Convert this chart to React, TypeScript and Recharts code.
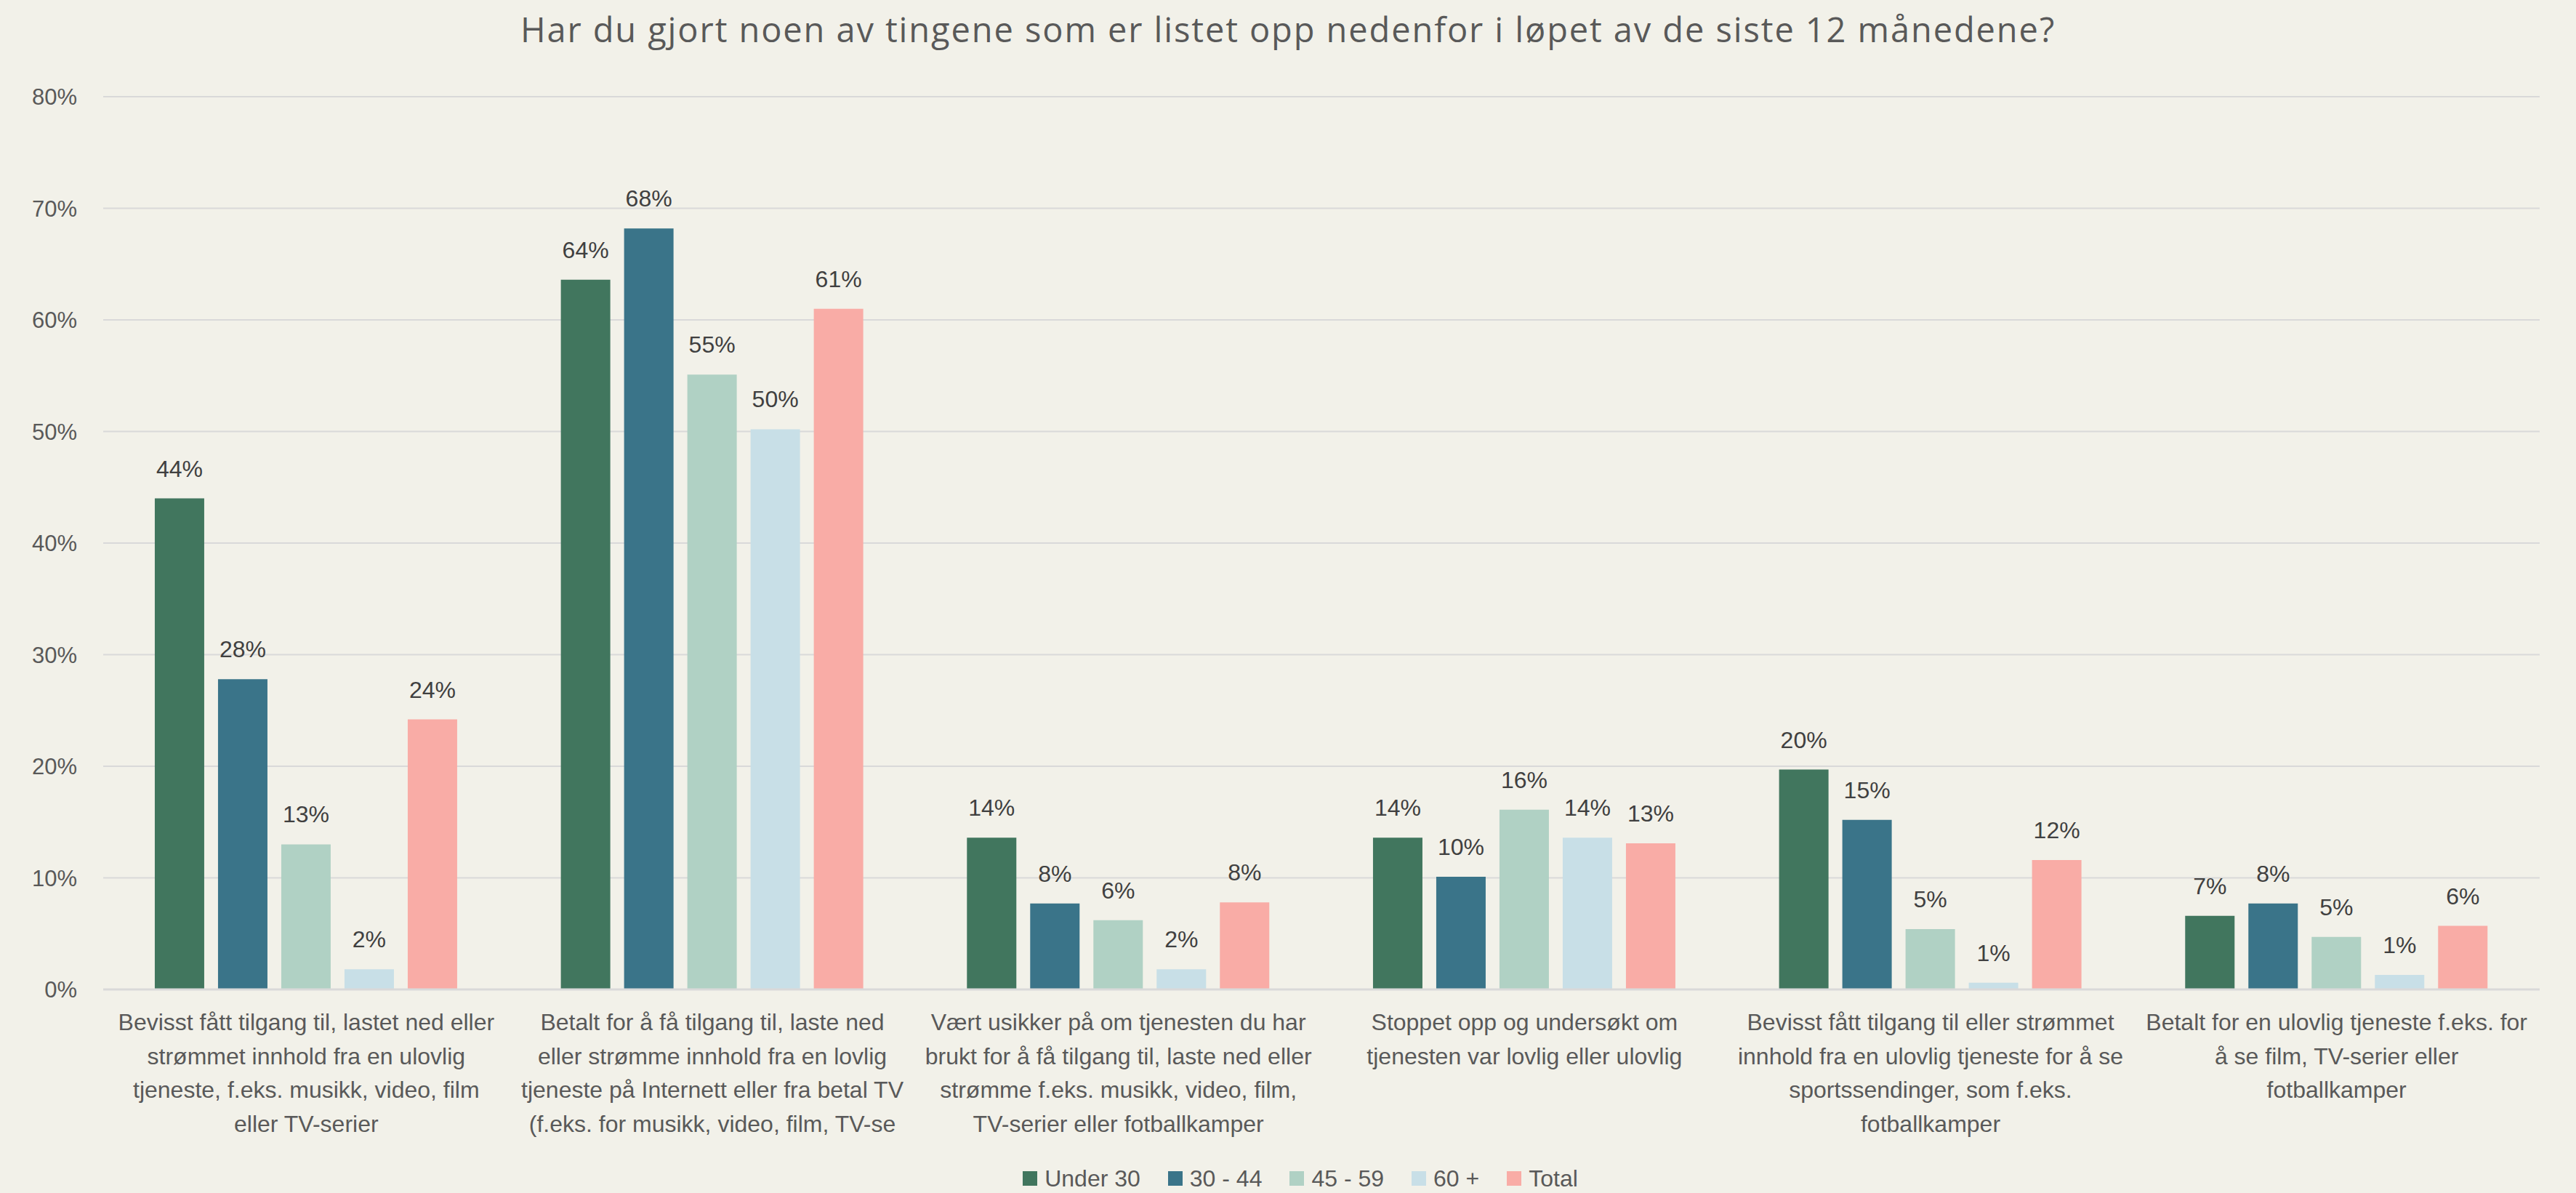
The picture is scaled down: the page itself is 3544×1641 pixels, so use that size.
import React from 'react'
import { BarChart, Bar, XAxis, YAxis, CartesianGrid, Legend, LabelList } from 'recharts'

const categories = [
  'Bevisst fått tilgang til, lastet ned eller strømmet innhold fra en ulovlig tjeneste, f.eks. musikk, video, film eller TV-serier',
  'Betalt for å få tilgang til, laste ned eller strømme innhold fra en lovlig tjeneste på Internett eller fra betal TV (f.eks. for musikk, video, film, TV-se',
  'Vært usikker på om tjenesten du har brukt for å få tilgang til, laste ned eller strømme f.eks. musikk, video, film, TV-serier eller fotballkamper',
  'Stoppet opp og undersøkt om tjenesten var lovlig eller ulovlig',
  'Bevisst fått tilgang til eller strømmet innhold fra en ulovlig tjeneste for å se sportssendinger, som f.eks. fotballkamper',
  'Betalt for en ulovlig tjeneste f.eks. for å se film, TV-serier eller fotballkamper',
]

// line breaks as they appear under the axis
const tickLines = [
  ['Bevisst fått tilgang til, lastet ned eller', 'strømmet innhold fra en ulovlig', 'tjeneste, f.eks. musikk, video, film', 'eller TV-serier'],
  ['Betalt for å få tilgang til, laste ned', 'eller strømme innhold fra en lovlig', 'tjeneste på Internett eller fra betal TV', '(f.eks. for musikk, video, film, TV-se'],
  ['Vært usikker på om tjenesten du har', 'brukt for å få tilgang til, laste ned eller', 'strømme f.eks. musikk, video, film,', 'TV-serier eller fotballkamper'],
  ['Stoppet opp og undersøkt om', 'tjenesten var lovlig eller ulovlig'],
  ['Bevisst fått tilgang til eller strømmet', 'innhold fra en ulovlig tjeneste for å se', 'sportssendinger, som f.eks.', 'fotballkamper'],
  ['Betalt for en ulovlig tjeneste f.eks. for', 'å se film, TV-serier eller', 'fotballkamper'],
]

const under30 = [44.0, 63.6, 13.6, 13.6, 19.7, 6.6]
const age30to44 = [27.8, 68.2, 7.7, 10.1, 15.2, 7.7]
const age45to59 = [13.0, 55.1, 6.2, 16.1, 5.4, 4.7]
const age60plus = [1.8, 50.2, 1.8, 13.6, 0.6, 1.3]
const total = [24.2, 61.0, 7.8, 13.1, 11.6, 5.7]

const yTicks = [0, 10, 20, 30, 40, 50, 60, 70, 80]

const series = [
  { key: 'u30', name: 'Under 30', color: '#41765E' },
  { key: 'a3044', name: '30 - 44', color: '#3A7489' },
  { key: 'a4559', name: '45 - 59', color: '#B0D1C4' },
  { key: 'a60', name: '60 +', color: '#C8DFE7' },
  { key: 'total', name: 'Total', color: '#F9ACA6' },
]

const data = categories.map((name, i) => ({
  name,
  u30: under30[i],
  a3044: age30to44[i],
  a4559: age45to59[i],
  a60: age60plus[i],
  total: total[i],
}))

const FONT = '"Liberation Sans", Arial, sans-serif'
const BG = '#F2F1E9'

const CategoryTick = ({ x, y, payload }: { x?: number; y?: number; payload?: { value: string } }) => {
  const idx = categories.indexOf(payload?.value ?? '')
  const lines = tickLines[idx] ?? []
  return (
    <text x={x} y={(y ?? 0) + 56} textAnchor="middle" fill="#595959" fontSize={32} fontFamily={FONT}>
      {lines.map((l, i) => (
        <tspan key={i} x={x} dy={i === 0 ? 0 : 46.7}>{l}</tspan>
      ))}
    </text>
  )
}

const CustomLegend = ({ payload }: { payload?: Array<{ color: string; value: string }> }) => {
  const order = series.map((s) => s.name)
  const items = [...(payload ?? [])].sort((a, b) => order.indexOf(a.value) - order.indexOf(b.value))
  return (
    <div style={{ height: 80, display: 'flex', justifyContent: 'center', alignItems: 'flex-end', paddingLeft: 122, boxSizing: 'border-box', paddingBottom: 2 }}>
      {items.map((entry, index) => (
        <div key={index} style={{ display: 'flex', alignItems: 'center', marginRight: 38, height: 36 }}>
          <div style={{ width: 20, height: 20, backgroundColor: entry.color, marginRight: 10 }} />
          <span style={{ fontSize: 32, color: '#595959', fontFamily: FONT }}>{entry.value}</span>
        </div>
      ))}
    </div>
  )
}

export default function App() {
  return (
    <div style={{ position: 'relative', width: 3544, height: 1641, background: BG, overflow: 'hidden' }}>
      <style>{'body{margin:0}'}</style>
      <div style={{ position: 'absolute', top: 8, left: 0, width: 3544, textAlign: 'center', fontSize: 47, letterSpacing: 1.9, color: '#595959', fontFamily: '"Open Sans", sans-serif' }}>
        Har du gjort noen av tingene som er listet opp nedenfor i løpet av de siste 12 månedene?
      </div>
      <BarChart
        width={3544}
        height={1641}
        data={data}
        margin={{ top: 133, right: 50, bottom: 0, left: 0 }}
        barCategoryGap="12.7%"
        barGap={19}
      >
        <CartesianGrid vertical={false} stroke="#D9D9D9" strokeWidth={2} />
        <XAxis
          dataKey="name"
          height={200}
          tickLine={false}
          tickSize={0}
          tickMargin={0}
          interval={0}
          axisLine={{ stroke: '#D9D9D9', strokeWidth: 3 }}
          tick={<CategoryTick />}
        />
        <YAxis
          width={142}
          domain={[0, 80]}
          ticks={yTicks}
          axisLine={false}
          tickLine={false}
          tickSize={0}
          tickMargin={36}
          tickFormatter={(v: number) => `${v}%`}
          tick={{ fill: '#595959', fontSize: 31, fontFamily: FONT }}
        />
        <Legend verticalAlign="bottom" content={<CustomLegend />} />
        {series.map((s) => (
          <Bar key={s.key} dataKey={s.key} name={s.name} fill={s.color} isAnimationActive={false}>
            <LabelList
              dataKey={s.key}
              position="top"
              offset={30}
              fill="#404040"
              fontSize={32}
              fontFamily={FONT}
              formatter={(v: number) => `${Math.round(v)}%`}
            />
          </Bar>
        ))}
      </BarChart>
    </div>
  )
}
